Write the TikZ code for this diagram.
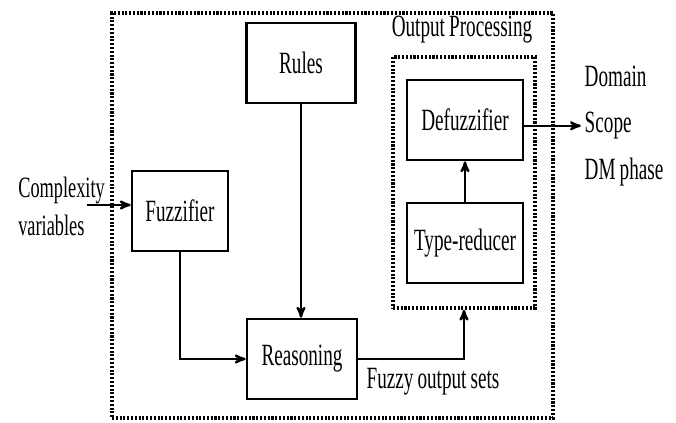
\documentclass[tikz,border=0pt]{standalone}
\usepackage{fontspec}
\setmainfont{Liberation Serif}[FakeStretch=0.62,WordSpace=0.85]
\usepackage{tikz}
\usetikzlibrary{arrows}
\usetikzlibrary{positioning}

\begin{document}
\begin{tikzpicture}
[>=stealth',line width=1.6pt,font=\fontsize{22pt}{27pt}\selectfont,
 block/.style={rectangle,draw,line width=1.9pt,minimum height=2cm},
 group/.style={rectangle,draw,line width=2.5pt,dash pattern=on 1.5pt off 1.2pt},
 tag/.style={inner sep=2pt}]

\useasboundingbox (0,0) rectangle (16.9,10.575);

% dotted frames
\node[group,minimum width=11.025cm,minimum height=10.125cm] (sys) at (8.3125,5.1875) {};
\node[group,minimum width=3.55cm,minimum height=6.275cm] (proc) at (11.6,6.0125) {};

\node[block,minimum width=2.725cm] (rules) at (7.525,9) {Rules};
\node[block,minimum width=2.4cm] (fuzz) at (4.5,5.3) {Fuzzifier};
\node[block,minimum width=2.75cm] (reason) at (7.55,1.6) {Reasoning};
\node[block,minimum width=2.9cm] (defuzz) at (11.625,7.575) {Defuzzifier};
\node[block,minimum width=2.9cm] (tred) at (11.625,4.5) {Type-reducer};

\node[tag] (proclabel) at (11.55,9.825) {Output Processing};
\node[tag] (fos) at (10.825,1.025) {Fuzzy output sets};
\node[tag,anchor=west,align=left,font=\fontsize{21pt}{27pt}\selectfont] (cv) at (0.36,5.42) {Complexity\\variables};
\node[tag,anchor=west,align=left,font=\fontsize{22pt}{33pt}\selectfont] (outs) at (14.52,7.43) {Domain\\Scope\\DM phase};

\coordinate (in) at (2.175,5.45);

\draw[->] (in) -- (in -| fuzz.west);
\draw[->] (fuzz.south) |- (reason.west);
\draw[->] (rules.south) -- (rules.south |- reason.north);
\draw[->] (reason.east) -| (proc.south);
\draw[->] (tred.north) -- (defuzz.south);
\draw[->] (outs.west -| defuzz.east) -- (outs.west);

\end{tikzpicture}
\end{document}
